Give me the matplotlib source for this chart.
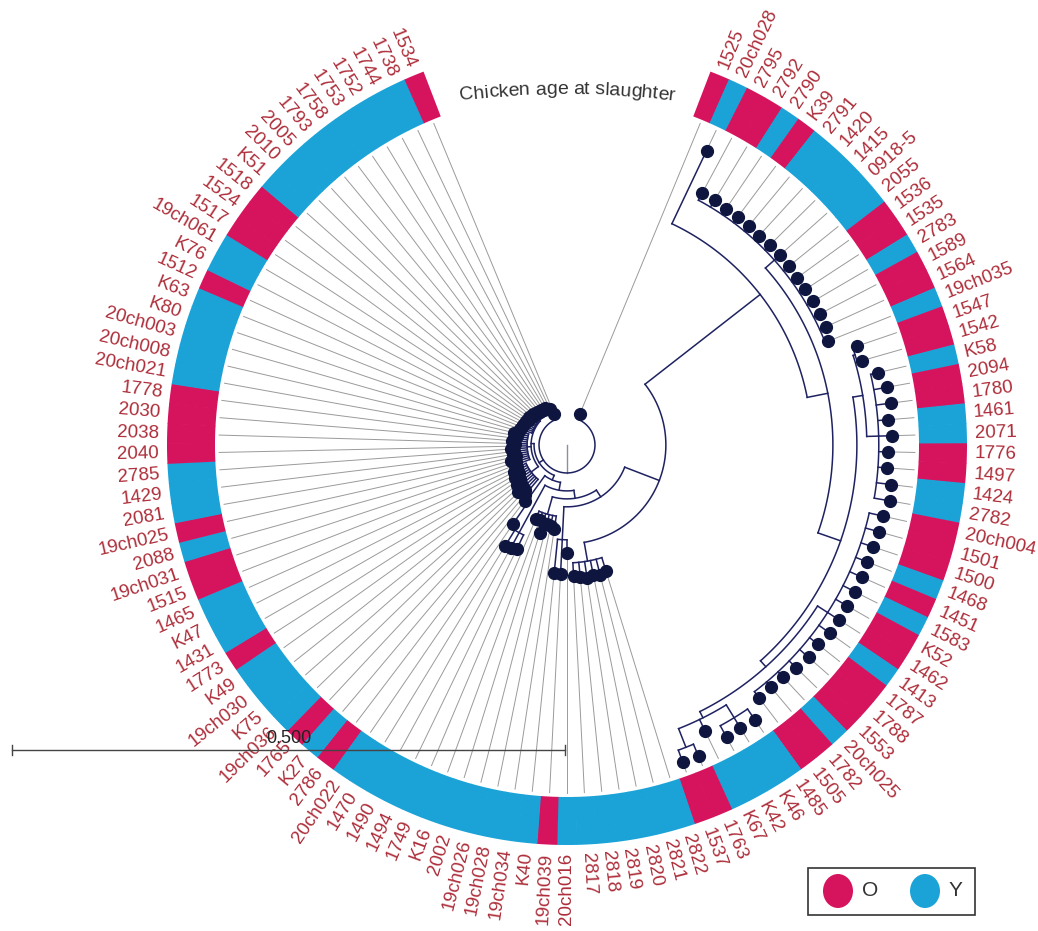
import numpy as np
import matplotlib.pyplot as plt
from matplotlib.patches import Wedge, Ellipse, Rectangle
from matplotlib.textpath import TextToPath
from matplotlib.font_manager import FontProperties

# leaves in clockwise order, starting right of the gap at the top
labels = ["1525", "20ch028", "2795", "2792", "2790", "K39", "2791", "1420", "1415", "0918-5",
          "2055", "1536", "1535", "2783", "1589", "1564", "19ch035", "1547", "1542", "K58",
          "2094", "1780", "1461", "2071", "1776", "1497", "1424", "2782", "20ch004", "1501",
          "1500", "1468", "1451", "1583", "K52", "1462", "1413", "1787", "1788", "1553",
          "20ch025", "1782", "1505", "1485", "K46", "K42", "K67", "1763", "1537", "2822",
          "2821", "2820", "2819", "2818", "2817", "20ch016", "19ch039", "K40", "19ch034", "19ch028",
          "19ch026", "2002", "K16", "1749", "1494", "1490", "1470", "20ch022", "2786", "K27",
          "1765", "19ch036", "K75", "19ch030", "K49", "1773", "1431", "K47", "1465", "1515",
          "19ch031", "2088", "19ch025", "2081", "1429", "2785", "2040", "2038", "2030", "1778",
          "20ch021", "20ch008", "20ch003", "K80", "K63", "1512", "K76", "19ch061", "1517", "1524",
          "1518", "K51", "2010", "2005", "1793", "1758", "1753", "1752", "1744", "1738", "1534"]

# chicken age at slaughter: O = old, Y = young
age = ["O", "Y", "O", "O", "Y", "O", "Y", "Y", "Y", "Y",
       "Y", "O", "O", "Y", "O", "O", "Y", "O", "O", "Y",
       "O", "O", "Y", "Y", "O", "O", "Y", "Y", "O", "O",
       "O", "Y", "O", "Y", "O", "O", "Y", "O", "O", "O",
       "Y", "O", "O", "Y", "Y", "Y", "Y", "O", "O", "Y",
       "Y", "Y", "Y", "Y", "Y", "Y", "O", "Y", "Y", "Y",
       "Y", "Y", "Y", "Y", "Y", "Y", "Y", "Y", "O", "Y",
       "O", "Y", "Y", "Y", "Y", "O", "Y", "Y", "Y", "O",
       "O", "Y", "O", "Y", "Y", "Y", "O", "O", "O", "O",
       "Y", "Y", "Y", "Y", "Y", "O", "Y", "Y", "O", "O",
       "O", "Y", "Y", "Y", "Y", "Y", "Y", "Y", "Y", "Y", "O"]

tree = ("((1525:0.0054,"
        "(((((((20ch028:0.0732,"
        "((2795:0.0072,2792:0.0072,2790:0.0063,K39:0.0063,2791:0.0063,1420:0.0054,1415:0.0063,"
        "0918-5:0.0063,2055:0.0063,1536:0.0063,1535:0.0063,2783:0.0063,1589:0.0063,1564:0.0063,"
        "19ch035:0.0027):0.0108,"
        "(((1547:0.0045,1542:0.0045):0.0018,"
        "(K58:0.0072,2094:0.0118,1780:0.0136,1461:0.0090,2071:0.0118,1776:0.0081,1497:0.0081,"
        "1424:0.0136,2782:0.0145):0.0108):0.0090,"
        "((20ch004:0.0127,1501:0.0127,1500:0.0118,1468:0.0108,1451:0.0118,1583:0.0118,K52:0.0118,"
        "1462:0.0118,1413:0.0118,1787:0.0099,1788:0.0108,1553:0.0090,20ch025:0.0063,1782:0.0063,"
        "1505:0.0072):0.0108,"
        "((1485:0.0118,K46:0.0108,K42:0.0118):0.0136,K67:0.0118,"
        "(1763:0.0118,1537:0.0118):0.0181):0.0063):0.0072):0.0217):0.0190):0.1320,"
        "(2822:0.0127,2821:0.0145,2820:0.0136,2819:0.0154,2818:0.0136,2817:0.0118):0.0172):0.0335,"
        "(20ch016:0.0118,19ch039:0.0307,K40:0.0307):0.0298):0.0072,"
        "(19ch034:0.0118,19ch028:0.0099,19ch026:0.0090,2002:0.0181,K16:0.0072,1749:0.0072):0.0163):0.0072,"
        "(1494:0.0145,1490:0.0154,1470:0.0163):0.0488):0.0072,"
        "(20ch022:0.0280,2786:0.0045):0.0244):0.0045,"
        "((K27:0.0190,1765:0.0154,19ch036:0.0208,K75:0.0136,19ch030:0.0172,K49:0.0118,1773:0.0154,"
        "1431:0.0099,K47:0.0136,1465:0.0090):0.0081,"
        "(1515:0.0145,19ch031:0.0127,2088:0.0163,19ch025:0.0108,2081:0.0136,1429:0.0118,2785:0.0145,"
        "2040:0.0127,2038:0.0108,2030:0.0136,1778:0.0118,20ch021:0.0099,20ch008:0.0127,"
        "20ch003:0.0090):0.0036,"
        "(K80:0.0118,K63:0.0099,1512:0.0108,K76:0.0090,19ch061:0.0099,1517:0.0081,1524:0.0090,"
        "1518:0.0072,K51:0.0081,2010:0.0063,2005:0.0072,1793:0.0054,1758:0.0063,1753:0.0045,"
        "1752:0.0054,1744:0.0036,1738:0.0027):0.0009):0.0027):0.0045,"
        "1534:0.0054):0.0253);")

scale_value = 0.5
scale_px = 553.0          # length of the 0.500 scale bar
px_per_unit = scale_px / scale_value

O_COL = "#D6145E"
Y_COL = "#1BA3D8"
TREE_COL = "#1E2260"
TIP_COL = "#0E1640"
LABEL_COL = "#AD2E3A"

W, H = 1038, 931
cx, cy = 567, H - 445
ring_out, ring_w = 400, 48
start_ang, span = 22.5, 315.0
step = span / (len(labels) - 1)


def parse_newick(s):
    pos = 0

    def node():
        nonlocal pos
        kids = []
        if s[pos] == "(":
            pos += 1
            while True:
                kids.append(node())
                if s[pos] == ",":
                    pos += 1
                    continue
                pos += 1
                break
        st = pos
        while s[pos] not in ":,);":
            pos += 1
        name = s[st:pos]
        bl = 0.0
        if s[pos] == ":":
            pos += 1
            st = pos
            while s[pos] not in ",);":
                pos += 1
            bl = float(s[st:pos])
        return {"name": name, "len": bl, "kids": kids}

    return node()


def xy(r, ang):
    a = np.radians(ang)
    return cx + r * np.sin(a), cy + r * np.cos(a)


def layout(n, r0):
    n["r"] = r0 + n["len"] * px_per_unit
    if not n["kids"]:
        n["ang"] = start_ang + labels.index(n["name"]) * step
        return
    for k in n["kids"]:
        layout(k, n["r"])
    n["ang"] = (n["kids"][0]["ang"] + n["kids"][-1]["ang"]) / 2


root = parse_newick(tree)
layout(root, 0.0)

fig = plt.figure(figsize=(W / 100, H / 100), dpi=100)
ax = fig.add_axes([0, 0, 1, 1])
ax.set_xlim(0, W)
ax.set_ylim(0, H)
ax.set_aspect("equal")
ax.axis("off")

tips = []


def draw(n):
    if not n["kids"]:
        tips.append(n)
        return
    a0, a1 = n["kids"][0]["ang"], n["kids"][-1]["ang"]
    t = np.linspace(a0, a1, max(2, int(abs(a1 - a0) * 2)))
    px, py = xy(n["r"], t)
    ax.plot(px, py, color=TREE_COL, lw=1.1, zorder=3)
    for k in n["kids"]:
        x0, y0 = xy(n["r"], k["ang"])
        x1, y1 = xy(k["r"], k["ang"])
        ax.plot([x0, x1], [y0, y1], color=TREE_COL, lw=1.1, zorder=3)
        draw(k)


# root stub, then the rest of the tree
top = root["kids"][0]
x1, y1 = xy(top["r"], top["ang"])
ax.plot([cx, x1], [cy, y1], color="#8a8ea8", lw=1.0, zorder=3)
draw(top)

for leaf in tips:
    x0, y0 = xy(leaf["r"], leaf["ang"])
    x1, y1 = xy(ring_out - ring_w - 4, leaf["ang"])
    ax.plot([x0, x1], [y0, y1], color="#9a9a9a", lw=0.7, zorder=2)
    ax.plot(x0, y0, "o", ms=8.5, color=TIP_COL, mec=TIP_COL, zorder=4)

# colour strip for age at slaughter
for i, (lab, g) in enumerate(zip(labels, age)):
    ang = start_ang + i * step
    phi = 90 - ang
    col = O_COL if g == "O" else Y_COL
    ax.add_patch(Wedge((cx, cy), ring_out, phi - step / 2 - 0.05, phi + step / 2 + 0.05,
                       width=ring_w, facecolor=col, edgecolor="none", zorder=5))
    lx, ly = xy(ring_out + 8, ang)
    if ang < 180:
        ax.text(lx, ly, lab, rotation=90 - ang, rotation_mode="anchor", ha="left", va="center",
                fontsize=13.5, color=LABEL_COL, family="Liberation Sans", zorder=6)
    else:
        ax.text(lx, ly, lab, rotation=270 - ang, rotation_mode="anchor", ha="right", va="center",
                fontsize=13.5, color=LABEL_COL, family="Liberation Sans", zorder=6)

# curved title over the gap
title = "Chicken age at slaughter"
fp = FontProperties(family="Liberation Sans", size=14)
ttp = TextToPath()
R_title = 900
tcy = H - (94 + R_title)
full_w = ttp.get_text_width_height_descent(title, fp, ismath=False)[0] * 100 / 72
for k, ch in enumerate(title):
    pre = ttp.get_text_width_height_descent(title[:k], fp, ismath=False)[0] * 100 / 72 if k else 0
    cw = ttp.get_text_width_height_descent(ch, fp, ismath=False)[0] * 100 / 72
    s = pre + cw / 2 - full_w / 2
    a = np.degrees(s / R_title)
    tx = cx + R_title * np.sin(np.radians(a))
    ty = tcy + R_title * np.cos(np.radians(a))
    ax.text(tx, ty, ch, rotation=-a, rotation_mode="anchor", ha="center", va="baseline",
            fontproperties=fp, color="#333333", zorder=6)

# scale bar
sy = H - 750
ax.plot([12, 12 + scale_px], [sy, sy], color="#444444", lw=1.0, zorder=7)
for sx in (12, 12 + scale_px):
    ax.plot([sx, sx], [sy - 5, sy + 5], color="#444444", lw=1.0, zorder=7)
ax.text(12 + scale_px / 2, sy + 3, f"{scale_value:.3f}", ha="center", va="bottom", fontsize=13,
        family="Liberation Sans", color="#222222", zorder=7)

# legend
ax.add_patch(Rectangle((808, H - 915), 167, 47, facecolor="white", edgecolor="#333333", lw=1.2, zorder=7))
ax.add_patch(Ellipse((838, H - 891), 30, 34, facecolor=O_COL, edgecolor="none", zorder=8))
ax.text(862, H - 891, "O", ha="left", va="center", fontsize=15, family="Liberation Sans",
        color="#333333", zorder=8)
ax.add_patch(Ellipse((925, H - 891), 30, 34, facecolor=Y_COL, edgecolor="none", zorder=8))
ax.text(949, H - 891, "Y", ha="left", va="center", fontsize=15, family="Liberation Sans",
        color="#333333", zorder=8)

fig.savefig("out.png", dpi=100)
